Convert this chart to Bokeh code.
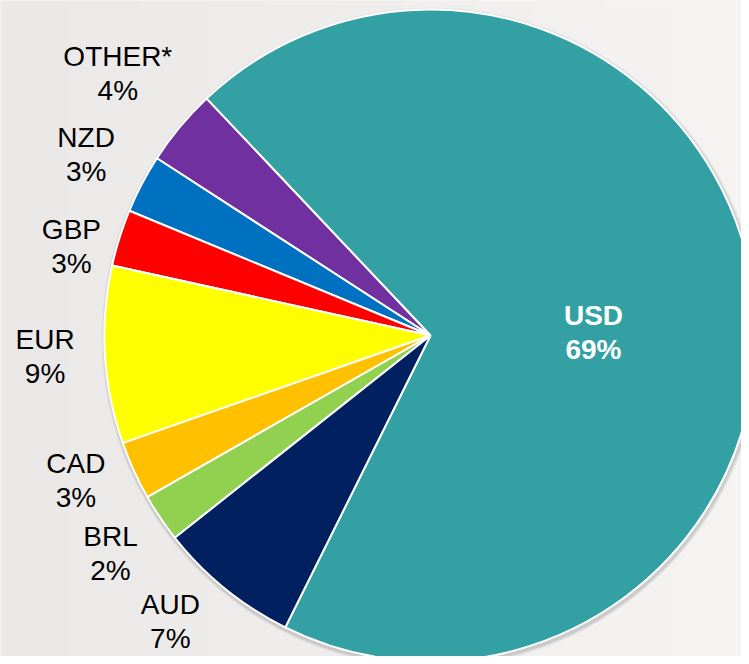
import math
import numpy as np
from bokeh.plotting import figure
from bokeh.models import Range1d, ColumnDataSource
from bokeh.core.properties import value
from bokeh.embed import file_html
from bokeh.resources import INLINE

# ---- data (anticlockwise order, starting with USD) ----
currencies = ["USD", "OTHER*", "NZD", "GBP", "EUR", "CAD", "BRL", "AUD"]
shares = [69.4, 3.8, 2.9, 2.8, 8.8, 2.9, 2.4, 7.0]
colors = ["#33A0A4", "#7030A0", "#0070C0", "#FF0000", "#FFFF00", "#FFC000", "#92D050", "#002060"]

# ---- layout / style ----
W, H = 741, 656
CX, CY = 430, H - 335            # pie centre (data units = pixels)
R = 326
START_DEG = -116.45              # where USD begins
label_nudge_deg = [-7.3, -0.2, 0.0, 3.5, -0.3, -2.3, 0.2, -3.2]
label_dist = [163, 408, 389, 370, 386, 383, 387, 387]
TEXT_SHIFT = 10                  # baseline correction for the renderer
FONT = "Liberation Sans"
FS = 28

total = sum(shares)
starts, ends, mids = [], [], []
acc = START_DEG
for s in shares:
    a0 = acc
    a1 = acc + s / total * 360.0
    starts.append(math.radians(a0))
    ends.append(math.radians(a1))
    mids.append((a0 + a1) / 2)
    acc = a1

src = ColumnDataSource(dict(start=starts, end=ends, color=colors))

p = figure(width=W, height=H, output_backend="svg", toolbar_location=None,
           x_range=Range1d(0, W), y_range=Range1d(0, H),
           x_axis_type=None, y_axis_type=None, min_border=0)
p.grid.visible = False
p.outline_line_color = None
p.background_fill_color = "#EFEEED"
p.border_fill_color = "#EFEEED"

# subtle horizontal background gradient
ncol = 64
t = np.linspace(0, 1, ncol)
c0 = np.array([234, 233, 232]); c1 = np.array([245, 244, 243])
img = np.zeros((1, ncol), dtype=np.uint32)
view = img.view(dtype=np.uint8).reshape((1, ncol, 4))
for j in range(ncol):
    col = (c0 + (c1 - c0) * t[j]).astype(np.uint8)
    view[0, j, 0:3] = col
    view[0, j, 3] = 255
p.image_rgba(image=[img], x=0, y=0, dw=W, dh=H)

# soft shadow
for k, a in [(4, 0.08), (3, 0.12), (2, 0.18)]:
    p.circle(x=[CX + 1], y=[CY - 2], radius=R + k, radius_units="screen",
             fill_color="#808080", fill_alpha=a, line_color=None)

p.wedge(x=CX, y=CY, radius=R, radius_units="screen",
        start_angle="start", end_angle="end", fill_color="color",
        line_color="white", line_width=2, source=src)

# labels
names_x, names_y, pct_x, pct_y = [], [], [], []
for i, (name, s) in enumerate(zip(currencies, shares)):
    ang = math.radians(mids[i] + label_nudge_deg[i])
    lx = CX + label_dist[i] * math.cos(ang)
    ly = CY + label_dist[i] * math.sin(ang) + TEXT_SHIFT
    names_x.append(lx); names_y.append(ly + 7)
    pct_x.append(lx); pct_y.append(ly - 27)

pct_txt = [f"{round(s)}%" for s in shares]

# outside labels (all but USD)
p.text(x=names_x[1:], y=names_y[1:], text=currencies[1:], text_align="center",
       text_baseline="alphabetic", text_font=value(FONT), text_font_size=f"{FS}px",
       text_color="black")
p.text(x=pct_x[1:], y=pct_y[1:], text=pct_txt[1:], text_align="center",
       text_baseline="alphabetic", text_font=value(FONT), text_font_size=f"{FS}px",
       text_color="black")
# USD label inside
p.text(x=names_x[:1], y=names_y[:1], text=currencies[:1], text_align="center",
       text_baseline="alphabetic", text_font=value(FONT), text_font_size=f"{FS}px",
       text_font_style="bold", text_color="white")
p.text(x=pct_x[:1], y=pct_y[:1], text=pct_txt[:1], text_align="center",
       text_baseline="alphabetic", text_font=value(FONT), text_font_size=f"{FS}px",
       text_font_style="bold", text_color="white")

open("out.html", "w").write(file_html(p, INLINE))
